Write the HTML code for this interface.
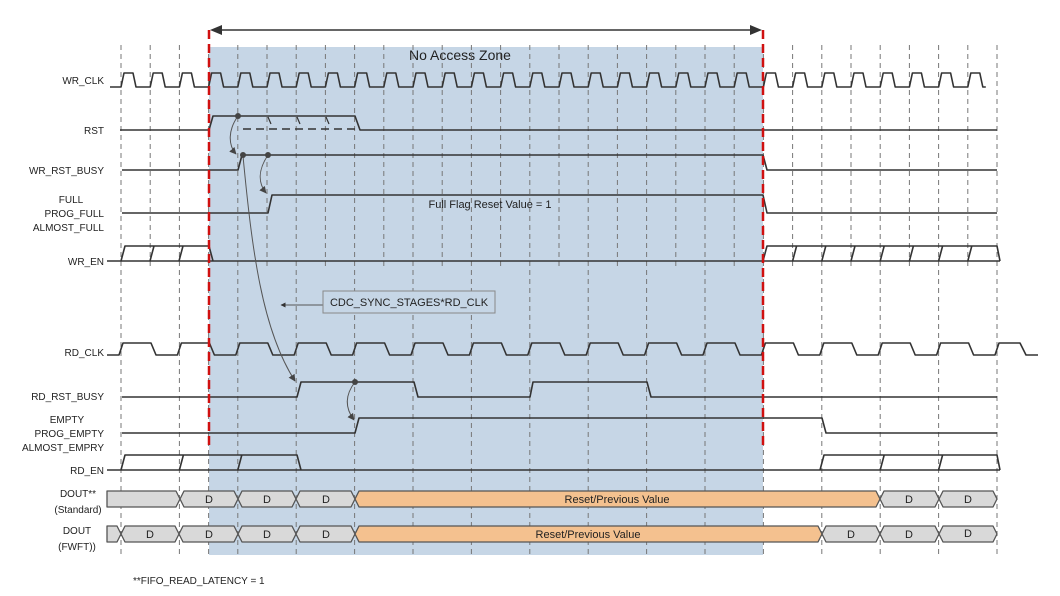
<!DOCTYPE html>
<html><head><meta charset="utf-8"><style>
html,body{margin:0;padding:0;background:#fff;}
svg{display:block;font-family:"Liberation Sans",sans-serif;}
</style></head><body>
<svg width="1060" height="596" viewBox="0 0 1060 596" xmlns="http://www.w3.org/2000/svg">
<defs>
<marker id="ah" viewBox="0 0 10 10" refX="9" refY="5" markerWidth="7" markerHeight="7" orient="auto-start-reverse"><path d="M0 0L10 5L0 10z" fill="#444"/></marker>
<marker id="ab" viewBox="0 0 10 10" refX="9" refY="5" markerWidth="5" markerHeight="5" orient="auto-start-reverse"><path d="M0 0L10 5L0 10z" fill="#333"/></marker>
</defs>
<rect x="209" y="47" width="554" height="508" fill="#c6d6e6"/>
<text x="460" y="60" font-size="14" text-anchor="middle" fill="#222">No Access Zone</text>
<g stroke="#777" stroke-width="1" stroke-dasharray="5 4">
<path d="M150.2 45V270M208.6 45V555M267 45V270M325.4 45V270M383.8 45V270M442.2 45V270M500.6 45V270M559 45V270M617.4 45V270M675.8 45V270M734.2 45V270M792.6 45V270M851 45V270M909.4 45V270M967.8 45V270"/>
<path d="M121 45V555M179.4 45V555M237.8 45V555M296.2 45V555M354.6 45V555M413 45V555M471.4 45V555M529.8 45V555M588.2 45V555M646.6 45V555M705 45V555M763.4 45V555M821.8 45V555M880.2 45V555M938.6 45V555M997 45V555"/>
</g>
<g fill="none" stroke="#333" stroke-width="1.6" stroke-linejoin="round">
<path d="M110 87H121 l3 -14 h9 l3 14 h14.2 l3 -14 h9 l3 14 h14.2 l3 -14 h9 l3 14 h14.2 l3 -14 h9 l3 14 h14.2 l3 -14 h9 l3 14 h14.2 l3 -14 h9 l3 14 h14.2 l3 -14 h9 l3 14 h14.2 l3 -14 h9 l3 14 h14.2 l3 -14 h9 l3 14 h14.2 l3 -14 h9 l3 14 h14.2 l3 -14 h9 l3 14 h14.2 l3 -14 h9 l3 14 h14.2 l3 -14 h9 l3 14 h14.2 l3 -14 h9 l3 14 h14.2 l3 -14 h9 l3 14 h14.2 l3 -14 h9 l3 14 h14.2 l3 -14 h9 l3 14 h14.2 l3 -14 h9 l3 14 h14.2 l3 -14 h9 l3 14 h14.2 l3 -14 h9 l3 14 h14.2 l3 -14 h9 l3 14 h14.2 l3 -14 h9 l3 14 h14.2 l3 -14 h9 l3 14 h14.2 l3 -14 h9 l3 14 h14.2 l3 -14 h9 l3 14 h14.2 l3 -14 h9 l3 14 h14.2 l3 -14 h9 l3 14 h14.2 l3 -14 h9 l3 14 h14.2 l3 -14 h9 l3 14 h14.2 l3 -14 h9 l3 14 h3"/>
<path d="M107 355H119 l4 -12 h28 l5 12 h21.4 l4 -12 h28 l5 12 h21.4 l4 -12 h28 l5 12 h21.4 l4 -12 h28 l5 12 h21.4 l4 -12 h28 l5 12 h21.4 l4 -12 h28 l5 12 h21.4 l4 -12 h28 l5 12 h21.4 l4 -12 h28 l5 12 h21.4 l4 -12 h28 l5 12 h21.4 l4 -12 h28 l5 12 h21.4 l4 -12 h28 l5 12 h21.4 l4 -12 h28 l5 12 h21.4 l4 -12 h28 l5 12 h21.4 l4 -12 h28 l5 12 h21.4 l4 -12 h28 l5 12 h21.4 l4 -12 h21 l6 12 h12"/>
<path d="M120 130H209L213 116H355L360 130H997"/>
<path d="M243 129H355" stroke-dasharray="8 5"/>
<path d="M268 117l3 7M297 117l3 7M326 117l3 7" stroke-width="1.2"/>
<path d="M122 170H238L242 155H763L767 170H997"/>
<path d="M122 213H268L272 195H763L767 213H997"/>
<path d="M107 261H1000M121 261L125 246H209L213 261M150 261l4 -15M179 261l4 -15M763 261L767 246H997L1000 261M792.6 261l4 -15M821.8 261l4 -15M851 261l4 -15M880.2 261l4 -15M909.4 261l4 -15M938.6 261l4 -15M967.8 261l4 -15"/>
<path d="M122 397H297L301 382H414L418 397H530L533 382H647L651 397H997"/>
<path d="M122 433H355L359 418H822L826 433H997"/>
<path d="M107 470H1000M121 470L125 455H297L301 470M179.4 470l4 -15M237.8 470l4 -15M820 470L824 455H997L1000 470M880.2 470l4 -15M938.6 470l4 -15"/>
</g>
<g stroke="#555" stroke-width="1.3" fill="#d9d9d9" stroke-linejoin="round">
<polygon points="107,491 176,491 180,499 176,507 107,507"/>
<polygon points="180,499 184,491 234,491 238,499 234,507 184,507"/>
<polygon points="238,499 242,491 292,491 296,499 292,507 242,507"/>
<polygon points="296,499 300,491 351,491 355,499 351,507 300,507"/>
<polygon points="355,499 359,491 876,491 880,499 876,507 359,507" fill="#f4c18f"/>
<polygon points="880,499 884,491 935,491 939,499 935,507 884,507"/>
<polygon points="939,499 943,491 993,491 997,499 993,507 943,507"/>
<polygon points="107,526 117,526 121,534 117,542 107,542"/>
<polygon points="121,534 125,526 175,526 179,534 175,542 125,542"/>
<polygon points="179,534 183,526 234,526 238,534 234,542 183,542"/>
<polygon points="238,534 242,526 292,526 296,534 292,542 242,542"/>
<polygon points="296,534 300,526 351,526 355,534 351,542 300,542"/>
<polygon points="355,534 359,526 818,526 822,534 818,542 359,542" fill="#f4c18f"/>
<polygon points="822,534 826,526 876,526 880,534 876,542 826,542"/>
<polygon points="880,534 884,526 935,526 939,534 935,542 884,542"/>
<polygon points="939,534 943,526 993,526 997,534 993,542 943,542"/>
</g>
<g font-size="11" fill="#222" text-anchor="middle">
<text x="209" y="503">D</text><text x="267" y="503">D</text><text x="326" y="503">D</text>
<text x="617" y="503">Reset/Previous Value</text>
<text x="909" y="503">D</text><text x="968" y="503">D</text>
<text x="150" y="538">D</text><text x="209" y="538">D</text><text x="267" y="538">D</text><text x="326" y="538">D</text>
<text x="588" y="538">Reset/Previous Value</text>
<text x="851" y="538">D</text><text x="909" y="538">D</text><text x="968" y="537">D</text>
<text x="490" y="208">Full Flag Reset Value = 1</text>
</g>
<g fill="none" stroke="#555" stroke-width="1">
<path d="M238 116C228 130 228 145 236 154" marker-end="url(#ah)"/>
<path d="M268 155C258 170 258 183 266 193" marker-end="url(#ah)"/>
<path d="M243 156C252 250 262 330 295 381" marker-end="url(#ah)"/>
<path d="M355 382C345 395 345 408 354 420" marker-end="url(#ah)"/>
<path d="M323 305H281" marker-end="url(#ab)"/>
</g>
<g fill="#444"><circle cx="238" cy="116" r="3"/><circle cx="243" cy="155" r="3"/><circle cx="268" cy="155" r="3"/><circle cx="355" cy="382" r="3"/></g>
<rect x="323" y="291" width="172" height="22" fill="#c6d6e6" stroke="#888" stroke-width="1"/>
<text x="409" y="306" font-size="11" text-anchor="middle" fill="#222">CDC_SYNC_STAGES*RD_CLK</text>
<g stroke="#d01010" stroke-width="2.5" stroke-dasharray="9 5">
<path d="M209 30V450M763 30V450"/>
</g>
<path d="M216 30H756" stroke="#333" stroke-width="1.6"/>
<path d="M210 30L222 25V35z M762 30L750 25V35z" fill="#333"/>
<g font-size="10" fill="#222">
<g text-anchor="end">
<text x="104" y="84">WR_CLK</text>
<text x="104" y="134">RST</text>
<text x="104" y="174">WR_RST_BUSY</text>
<text x="104" y="217">PROG_FULL</text>
<text x="104" y="231">ALMOST_FULL</text>
<text x="104" y="265">WR_EN</text>
<text x="104" y="356">RD_CLK</text>
<text x="104" y="400">RD_RST_BUSY</text>
<text x="104" y="437">PROG_EMPTY</text>
<text x="104" y="451">ALMOST_EMPRY</text>
<text x="104" y="474">RD_EN</text>
</g>
<g text-anchor="middle">
<text x="71" y="203">FULL</text>
<text x="67" y="423">EMPTY</text>
<text x="78" y="497">DOUT**</text>
<text x="78" y="513">(Standard)</text>
<text x="77" y="534">DOUT</text>
<text x="77" y="550">(FWFT))</text>
</g>
<text x="133" y="584">**FIFO_READ_LATENCY = 1</text>
</g>
</svg>
</body></html>
